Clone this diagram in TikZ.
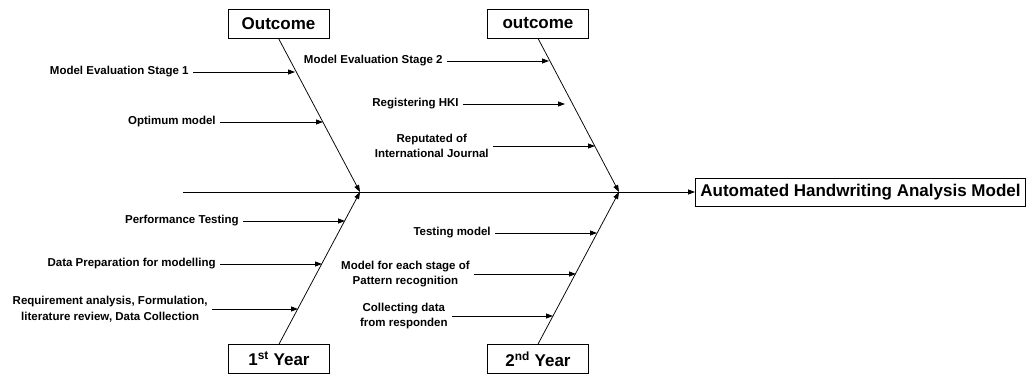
\documentclass[tikz,border=0pt]{standalone}
\usepackage{fontspec}
\setmainfont{Liberation Sans}
\usetikzlibrary{arrows.meta, positioning, calc}

\begin{document}
\begin{tikzpicture}[x=1pt, y=-1pt, line width=0.75pt,
  every node/.style={font=\bfseries\fontsize{11.5}{15.5}\selectfont, align=center},
  hdr/.style={draw, font=\bfseries\fontsize{17}{20}\selectfont, minimum width=101pt, minimum height=29pt, inner sep=2pt},
  lbl/.style={anchor=east, inner xsep=4pt, inner ysep=1pt},
  arr/.style={-{Triangle[length=7pt, width=5pt]}}]
\useasboundingbox (0,0) rectangle (1035,374);

% heads, spine and result
\node[hdr] (o1) at (278.5,23.5) {Outcome};
\node[hdr] (o2) at (538,23.5) {outcome};
\node[hdr] (y1) at (279,359) {1\textsuperscript{st} Year};
\node[hdr] (y2) at (538,359) {2\textsuperscript{nd} Year};
\node[draw, font=\bfseries\fontsize{17}{20}\selectfont, inner xsep=5pt, minimum height=28pt, anchor=west] (res) at (695,192) {Automated Handwriting Analysis Model};
\coordinate (s0) at (183,192);
\coordinate (j1) at (360,192);
\coordinate (j2) at (619,192);

\draw[arr] (s0) -- (res);
\draw[arr] (o1.south) -- (j1);
\draw[arr] (y1.north) -- (j1);
\draw[arr] (o2.south) -- (j2);
\draw[arr] (y2.north) -- (j2);

% first year causes
\node[lbl] (c1) at (193,72) {Model Evaluation Stage 1};
\node[lbl] (c2) at (220,122) {Optimum model};
\node[lbl] (c3) at (243,221) {Performance Testing};
\node[lbl] (c4) at (220,264) {Data Preparation for modelling};
\node[lbl] (c5) at (212,309) {Requirement analysis, Formulation,\\literature review, Data Collection};
\coordinate (t1) at (295,72);
\coordinate (t2) at (323,122);
\coordinate (t3) at (345,221);
\coordinate (t4) at (322,264);
\coordinate (t5) at (298,309);

% second year causes
\node[lbl] (d1) at (447,61) {Model Evaluation Stage 2};
\node[lbl] (d2) at (463,104) {Registering HKI};
\node[lbl] (d3) at (493,146) {Reputated of\\International Journal};
\node[lbl] (d4) at (495,233) {Testing model};
\node[lbl] (d5) at (474,274) {Model for each stage of\\Pattern recognition};
\node[lbl] (d6) at (452,316) {Collecting data\\from responden};
\coordinate (u1) at (549,61);
\coordinate (u2) at (565,104);
\coordinate (u3) at (595,146);
\coordinate (u4) at (597,233);
\coordinate (u5) at (576,274);
\coordinate (u6) at (553,316);

\foreach \a/\b in {c1/t1, c2/t2, c3/t3, c4/t4, c5/t5, d1/u1, d2/u2, d3/u3, d4/u4, d5/u5, d6/u6}
  \draw[arr] (\a) -- (\b);
\end{tikzpicture}
\end{document}
